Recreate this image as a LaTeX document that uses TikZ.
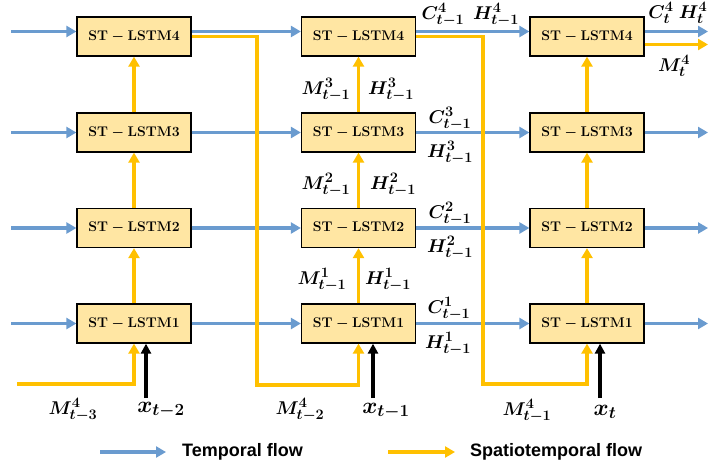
\RequirePackage{fix-cm}
\documentclass[tikz,border=0pt]{standalone}
\usepackage{fontspec}
\newfontfamily\legendfont{Liberation Sans}
\usetikzlibrary{arrows.meta}
\DeclareMathSizes{18.5}{18.5}{14.5}{11}
\DeclareMathSizes{23}{23}{17}{12}
\definecolor{tblue}{HTML}{6A9BCF}
\definecolor{torange}{HTML}{FFC000}
\definecolor{boxfill}{HTML}{FFE6A3}
\begin{document}
\begin{tikzpicture}[x=1pt,y=-1pt,
 cell/.style={draw=black,line width=1.3pt,fill=boxfill,minimum width=114pt,minimum height=39pt,inner sep=0pt,font=\boldmath\fontsize{14}{16}\selectfont},
 tflow/.style={draw=tblue,line width=3.2pt,-{Triangle[length=10pt,width=11pt]}},
 sflow/.style={draw=torange,line width=3.2pt,-{Triangle[length=10pt,width=11pt]}},
 inflow/.style={draw=black,line width=3.2pt,-{Triangle[length=10pt,width=10pt]}},
 lab/.style={font=\fontsize{18.5}{20}\selectfont\boldmath,inner sep=0pt},
 xlab/.style={font=\fontsize{23}{25}\selectfont\boldmath,inner sep=0pt},
 leg/.style={font=\legendfont\bfseries\fontsize{18}{20}\selectfont,inner sep=0pt,anchor=west}]
\useasboundingbox (0,0) rectangle (709,468);

% cells
\foreach \c/\x in {a/134,b/358.5,c/587}{
  \node[cell] (\c4) at (\x,36.5) {$\mathbf{ST-LSTM4}$};
  \node[cell] (\c3) at (\x,132.5) {$\mathbf{ST-LSTM3}$};
  \node[cell] (\c2) at (\x,228) {$\mathbf{ST-LSTM2}$};
  \node[cell] (\c1) at (\x,323.5) {$\mathbf{ST-LSTM1}$};
}

% free ends
\coordinate (l4) at (11,31.5);
\coordinate (l3) at (11,132.5);
\coordinate (l2) at (11,228);
\coordinate (l1) at (11,323.5);
\coordinate (r4) at (708,31.5);
\coordinate (r3) at (708,132.5);
\coordinate (r2) at (708,228);
\coordinate (r1) at (708,323.5);
\coordinate (ro) at (708,44.5);
\coordinate (k1) at (257,36.5);
\coordinate (k2) at (257,385);
\coordinate (k3) at (483,36.5);
\coordinate (k4) at (483,384);
\coordinate (m0) at (17,384);
\coordinate (xa) at (146,398);
\coordinate (xb) at (373,398);
\coordinate (xc) at (600,398);

% temporal flow
\draw[tflow] (l4) -- ([yshift=5pt]a4.west);
\draw[tflow] ([yshift=5pt]a4.east) -- ([yshift=5pt]b4.west);
\draw[tflow] ([yshift=5pt]b4.east) -- ([yshift=5pt]c4.west);
\draw[tflow] ([yshift=5pt]c4.east) -- (r4);
\foreach \r in {1,2,3}{
  \draw[tflow] (l\r) -- (a\r.west);
  \draw[tflow] (a\r.east) -- (b\r.west);
  \draw[tflow] (b\r.east) -- (c\r.west);
  \draw[tflow] (c\r.east) -- (r\r);
}

% spatiotemporal flow
\foreach \c in {a,b,c}{
  \draw[sflow] (\c1.north) -- (\c2.south);
  \draw[sflow] (\c2.north) -- (\c3.south);
  \draw[sflow] (\c3.north) -- (\c4.south);
}
\draw[sflow] (m0) -| (a1.south);
\draw[sflow] (a4.east) -- (k1) -- (k2) -| (b1.south);
\draw[sflow] (b4.east) -- (k3) -- (k4) -| (c1.south);
\draw[sflow] ([yshift=-8pt]c4.east) -- (ro);

% inputs
\draw[inflow] (xa) -- (xa |- a1.south);
\draw[inflow] (xb) -- (xb |- b1.south);
\draw[inflow] (xc) -- (xc |- c1.south);

% labels
\node[lab] (lm3) at (326,90) {$M^3_{t-1}$};
\node[lab] (lh3) at (391,90) {$H^3_{t-1}$};
\node[lab] (lm2) at (326,185) {$M^2_{t-1}$};
\node[lab] (lh2) at (393,185) {$H^2_{t-1}$};
\node[lab] (lm1) at (322,280) {$M^1_{t-1}$};
\node[lab] (lh1) at (388,280) {$H^1_{t-1}$};
\node[lab] (lc4) at (443,15) {$C^4_{t-1}$};
\node[lab] (lh4) at (496,15) {$H^4_{t-1}$};
\node[lab] (lc3) at (450,119) {$C^3_{t-1}$};
\node[lab] (lhh3) at (450,153) {$H^3_{t-1}$};
\node[lab] (lc2) at (450,214) {$C^2_{t-1}$};
\node[lab] (lhh2) at (450,248) {$H^2_{t-1}$};
\node[lab] (lc1) at (449,309) {$C^1_{t-1}$};
\node[lab] (lhh1) at (448,344) {$H^1_{t-1}$};
\node[lab] (lct) at (661,13) {$C^4_{t}$};
\node[lab] (lht) at (693,13) {$H^4_{t}$};
\node[lab] (lmt) at (674,66) {$M^4_{t}$};
\node[lab] (lm43) at (73,410) {$M^4_{t-3}$};
\node[lab] (lm42) at (300,410) {$M^4_{t-2}$};
\node[lab] (lm41) at (527,411) {$M^4_{t-1}$};
\node[xlab] (lx2) at (161,410) {$x_{t-2}$};
\node[xlab] (lx1) at (386,411) {$x_{t-1}$};
\node[xlab] (lx0) at (605,412) {$x_{t}$};

% legend
\coordinate (g1) at (100,452);
\coordinate (g2) at (166,452);
\coordinate (g3) at (388,452);
\coordinate (g4) at (455,452);
\draw[tflow] (g1) -- (g2);
\draw[sflow] (g3) -- (g4);
\node[leg] (t1) at (182,452) {Temporal flow};
\node[leg] (t2) at (470,452) {Spatiotemporal flow};
\end{tikzpicture}
\end{document}
